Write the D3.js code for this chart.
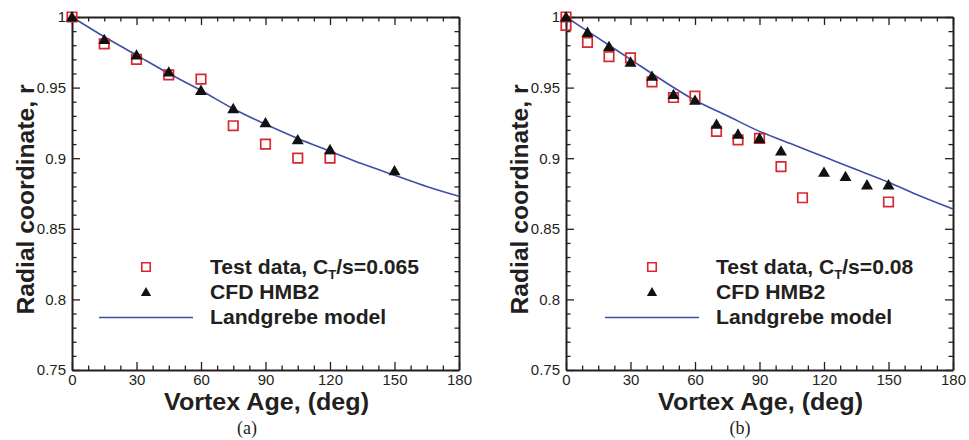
<!DOCTYPE html>
<html>
<head>
<meta charset="utf-8">
<script src="https://cdn.jsdelivr.net/npm/d3@7"></script>
<style>
  body { margin: 0; background: #fff; }
  svg { display: block; }
  text { font-family: "Liberation Sans", Arial, sans-serif; fill: #231f20; }
</style>
</head>
<body>
<script>
// ---- data ----
let xTicks = [0, 30, 60, 90, 120, 150, 180]
let yTicks = [0.75, 0.8, 0.85, 0.9, 0.95, 1]
let yTickLabels = ['0.75', '0.8', '0.85', '0.9', '0.95', '1']

// panel (a)
let testAgeA = [0, 15, 30, 45, 60, 75, 90, 105, 120]
let testRA = [1.0, 0.981, 0.970, 0.959, 0.956, 0.923, 0.910, 0.900, 0.900]
let cfdAgeA = [0, 15, 30, 45, 60, 75, 90, 105, 120, 150]
let cfdRA = [1.0, 0.984, 0.973, 0.961, 0.948, 0.935, 0.925, 0.913, 0.906, 0.891]
let modelAgeA = [0, 15, 30, 45, 60, 75, 90, 105, 120, 135, 150, 165, 180]
let modelRA = [1.0, 0.986, 0.973, 0.960, 0.948, 0.935, 0.924, 0.914, 0.905, 0.896, 0.888, 0.880, 0.873]

// panel (b)
let testAgeB = [0, 0, 10, 20, 30, 40, 50, 60, 70, 80, 90, 100, 110, 150]
let testRB = [1.0, 0.994, 0.982, 0.972, 0.971, 0.954, 0.943, 0.944, 0.919, 0.913, 0.914, 0.894, 0.872, 0.869]
let cfdAgeB = [0, 10, 20, 30, 40, 50, 60, 70, 80, 90, 100, 120, 130, 140, 150]
let cfdRB = [1.0, 0.989, 0.979, 0.968, 0.958, 0.945, 0.941, 0.924, 0.917, 0.914, 0.905, 0.890, 0.887, 0.881, 0.881]
let modelAgeB = [0, 15, 30, 45, 60, 75, 90, 105, 120, 135, 150, 165, 180]
let modelRB = [1.0, 0.985, 0.970, 0.955, 0.941, 0.930, 0.919, 0.910, 0.901, 0.892, 0.883, 0.873, 0.864]

let width = 969, height = 440
let red = '#d7282f', blue = '#3d4fa6'

let svg = d3.select('body').append('svg')
  .attr('width', width)
  .attr('height', height)

function drawPanel(p) {
  let x = d3.scaleLinear().domain([0, 180]).range([p.left, p.right])
  let y = d3.scaleLinear().domain([0.75, 1]).range([p.bottom, p.top])
  let g = svg.append('g')

  let minorX = d3.range(0, 180.01, 7.5).filter(d => d % 30 !== 0)
  let minorY = d3.range(0.75, 1.001, 0.01).filter(d => Math.abs(Math.round(d * 20) - d * 20) > 1e-6)

  function frame(axisFn, scale, pos, major, minor, labels) {
    let a = g.append('g').attr('transform', pos)
    a.call(axisFn(scale).tickValues(major).tickSizeInner(-8).tickSizeOuter(0)
      .tickPadding(axisFn === d3.axisLeft ? 6 : 4)
      .tickFormat(labels ? (d, i) => labels[i] : ''))
    a.append('g').call(axisFn(scale).tickValues(minor).tickSizeInner(-4.5).tickSizeOuter(0).tickFormat(''))
      .select('.domain').remove()
    a.selectAll('.domain').attr('stroke', '#231f20').attr('stroke-width', 2)
    a.selectAll('line').attr('stroke', '#231f20').attr('stroke-width', 1.3)
    a.selectAll('text').style('font-size', '15px').attr('fill', '#231f20')
    return a
  }
  frame(d3.axisBottom, x, `translate(0,${p.bottom})`, xTicks, minorX, xTicks.map(String))
  frame(d3.axisTop, x, `translate(0,${p.top})`, xTicks, minorX, null)
  frame(d3.axisLeft, y, `translate(${p.left},0)`, yTicks, minorY, yTickLabels)
  frame(d3.axisRight, y, `translate(${p.right},0)`, yTicks, minorY, null)

  // model curve
  let line = d3.line().x(d => x(d[0])).y(d => y(d[1])).curve(d3.curveMonotoneX)
  g.append('path')
    .datum(p.modelAge.map((a, i) => [a, p.modelR[i]]))
    .attr('d', line)
    .attr('fill', 'none')
    .attr('stroke', blue)
    .attr('stroke-width', 1.6)

  let sq = d3.symbol().type(d3.symbolSquare).size(90)
  let tri = d3.symbol().type(d3.symbolTriangle).size(62)

  g.selectAll('.test')
    .data(p.testAge.map((a, i) => [a, p.testR[i]]))
    .enter().append('path')
    .attr('transform', d => `translate(${x(d[0])},${y(d[1])})`)
    .attr('d', sq)
    .attr('fill', 'none')
    .attr('stroke', red)
    .attr('stroke-width', 1.7)

  g.selectAll('.cfd')
    .data(p.cfdAge.map((a, i) => [a, p.cfdR[i]]))
    .enter().append('path')
    .attr('transform', d => `translate(${x(d[0])},${y(d[1]) + 1})`)
    .attr('d', tri)
    .attr('fill', '#111')

  // legend
  let lg = g.append('g')
  lg.append('path').attr('transform', `translate(${p.legMark},267)`)
    .attr('d', d3.symbol().type(d3.symbolSquare).size(72))
    .attr('fill', 'none').attr('stroke', red).attr('stroke-width', 1.6)
  lg.append('path').attr('transform', `translate(${p.legMark},293)`)
    .attr('d', d3.symbol().type(d3.symbolTriangle).size(46))
    .attr('fill', '#111')
  lg.append('line').attr('x1', p.legMark - 47).attr('x2', p.legMark + 47)
    .attr('y1', 317.5).attr('y2', 317.5)
    .attr('stroke', blue).attr('stroke-width', 1.6)

  // reference lettering is a little wider than Liberation at the same height
  let lt = lg.append('g').attr('transform', `translate(${p.legText},0) scale(1.085,1)`)
  let t1 = lt.append('text').attr('x', 0).attr('y', 274)
    .style('font-size', '19.5px').style('font-weight', 'bold')
  t1.append('tspan').text('Test data, C')
  t1.append('tspan').attr('dy', 5).style('font-size', '12px').text('T')
  t1.append('tspan').attr('dy', -5).text('/s=' + p.ct)
  lt.append('text').attr('x', 0).attr('y', 299)
    .style('font-size', '19.5px').style('font-weight', 'bold').text('CFD HMB2')
  lt.append('text').attr('x', 0).attr('y', 324)
    .style('font-size', '19.5px').style('font-weight', 'bold').text('Landgrebe model')

  // axis titles
  g.append('text')
    .attr('x', (p.left + p.right) / 2 + 1).attr('y', 410)
    .attr('text-anchor', 'middle')
    .attr('textLength', 205).attr('lengthAdjust', 'spacingAndGlyphs')
    .style('font-size', '23px').style('font-weight', 'bold')
    .text('Vortex Age, (deg)')
  g.append('text')
    .attr('transform', `translate(${p.left - 38},${(p.top + p.bottom) / 2 + 6}) rotate(-90)`)
    .attr('text-anchor', 'middle')
    .attr('textLength', 230).attr('lengthAdjust', 'spacingAndGlyphs')
    .style('font-size', '23px').style('font-weight', 'bold')
    .text('Radial coordinate, r')

  g.append('text')
    .attr('x', p.caption).attr('y', 434)
    .attr('text-anchor', 'middle')
    .style('font-family', '"Liberation Serif", "Times New Roman", serif')
    .style('font-size', '18px')
    .text(p.label)
}

drawPanel({
  left: 72, right: 459, top: 17, bottom: 370,
  testAge: testAgeA, testR: testRA, cfdAge: cfdAgeA, cfdR: cfdRA,
  modelAge: modelAgeA, modelR: modelRA,
  legMark: 146, legText: 210, ct: '0.065', caption: 247, label: '(a)'
})
drawPanel({
  left: 566, right: 953, top: 17, bottom: 370,
  testAge: testAgeB, testR: testRB, cfdAge: cfdAgeB, cfdR: cfdRB,
  modelAge: modelAgeB, modelR: modelRB,
  legMark: 652, legText: 716, ct: '0.08', caption: 740, label: '(b)'
})
</script>
</body>
</html>
